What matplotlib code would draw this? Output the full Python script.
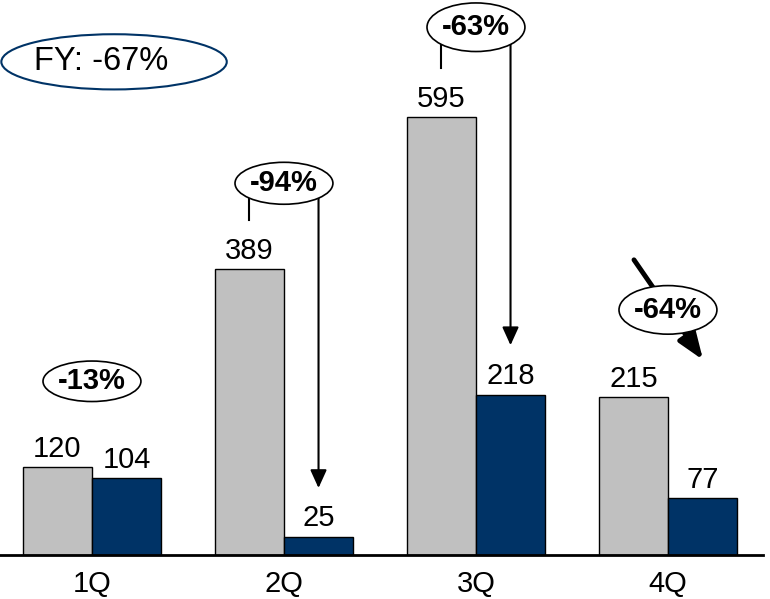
import matplotlib.pyplot as plt
from matplotlib.patches import Ellipse
import numpy as np

plt.rcParams["font.family"] = ["Liberation Sans", "DejaVu Sans"]

# Quarterly values: prior year (grey) vs current year (navy)
quarters = ["1Q", "2Q", "3Q", "4Q"]
prior = [120, 389, 595, 215]
current = [104, 25, 218, 77]
changes = ["-13%", "-94%", "-63%", "-64%"]
fy_label = "FY: -67%"

grey = "#C0C0C0"
navy = "#003366"
w = 0.36

fig = plt.figure(figsize=(7.7, 5.99), dpi=100)
ax = fig.add_axes([0, 44 / 599, 763 / 770, 555 / 599])

x = np.arange(len(quarters))
b1 = ax.bar(x - w / 2, prior, w, color=grey, edgecolor="black", linewidth=1)
b2 = ax.bar(x + w / 2, current, w, color=navy, edgecolor="black", linewidth=1)

for bars in (b1, b2):
    for rect in bars:
        h = rect.get_height()
        ax.annotate(f"{h:g}", (rect.get_x() + rect.get_width() / 2, h),
                    xytext=(0, 3), textcoords="offset points",
                    ha="center", va="bottom", fontsize=21)

ax.set_xlim(-0.479, 3.495)
ax.set_ylim(0, 754)
ax.set_xticks(x)
ax.set_xticklabels(quarters, fontsize=21)
ax.tick_params(axis="x", length=0, pad=11)
ax.set_yticks([])
for s in ["top", "left", "right"]:
    ax.spines[s].set_visible(False)
ax.spines["bottom"].set_linewidth(2)


def bubble(cx, cy, text, h=60):
    e = Ellipse((cx, cy), 0.51, h, facecolor="white", edgecolor="black",
                linewidth=1.2, zorder=5, clip_on=False)
    ax.add_patch(e)
    ax.text(cx, cy, text, ha="center", va="center", fontsize=21,
            fontweight="bold", zorder=6)


def arrow(x0, y0, x1, y1, lw=1.5, hl=1.1, hw=0.5):
    ax.annotate("", xy=(x1, y1), xytext=(x0, y0),
                arrowprops=dict(arrowstyle=f"-|>,head_length={hl},head_width={hw}",
                                color="black", lw=lw, shrinkA=0, shrinkB=0),
                zorder=4)


# 1Q change
bubble(0, 236, changes[0], h=55)

# 2Q change: tick over the grey bar, arrow down to the navy bar
bubble(1, 505, changes[1], h=57)
ax.plot([1 - w / 2, 1 - w / 2], [505, 455], color="black", lw=1.5, zorder=4)
arrow(1 + w / 2, 505, 1 + w / 2, 91)

# 3Q change
bubble(2, 717, changes[2], h=66)
ax.plot([2 - w / 2, 2 - w / 2], [717, 662], color="black", lw=1.5,
        zorder=4, clip_on=False)
arrow(2 + w / 2, 717, 2 + w / 2, 285)

# 4Q change: heavy diagonal arrow behind the bubble
arrow(2.823, 401, 3.183, 265, lw=3.5, hl=1.6, hw=0.6)
bubble(3, 333, changes[3], h=66)

# Full-year total
fy = Ellipse((0.115, 670), 1.174, 75, facecolor="white", edgecolor=navy,
             linewidth=1.5, zorder=5, clip_on=False)
ax.add_patch(fy)
ax.text(0.047, 670, fy_label, ha="center", va="center", fontsize=23.5, zorder=6)

fig.savefig("out.png", dpi=100)
